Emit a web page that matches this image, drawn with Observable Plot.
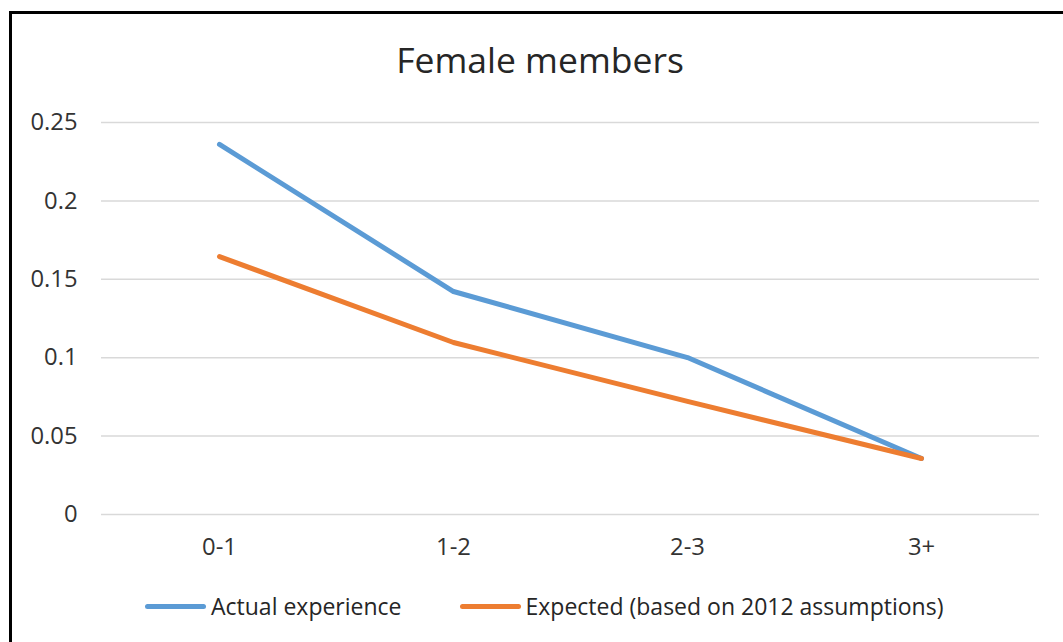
<!DOCTYPE html>
<html>
<head>
<meta charset="utf-8">
<script src="https://cdn.jsdelivr.net/npm/d3@7"></script>
<script src="https://cdn.jsdelivr.net/npm/@observablehq/plot@0.6"></script>
<style>
  html, body { margin: 0; padding: 0; background: #fff; }
  #wrap { position: relative; width: 1063px; height: 642px; overflow: hidden; font-family: "Open Sans", sans-serif; color: #404040; }
  #frame { position: absolute; left: 9px; top: 11px; right: -10px; bottom: -10px; border-left: 3px solid #000; border-top: 3px solid #000; }
  #chart { position: absolute; left: 0; top: 0; }
  #title { position: absolute; left: 540px; top: 42px; transform: translateX(-50%); font-size: 35.5px; line-height: 1; white-space: nowrap; color: #262626; }
  #legend { position: absolute; left: 145px; top: 595px; display: flex; align-items: center; gap: 58px; font-size: 23px; line-height: 1; white-space: nowrap; color: #262626; }
  .item { display: flex; align-items: center; gap: 5px; }
  .swatch { width: 61px; height: 5px; border-radius: 3px; }
</style>
</head>
<body>
<div id="wrap">
  <div id="chart"></div>
  <div id="frame"></div>
  <div id="title">Female members</div>
  <div id="legend"></div>
</div>
<script>
// Years of membership bands
const bands = ["0-1", "1-2", "2-3", "3+"];
// Observed rates
const actual = [0.236, 0.1422, 0.1001, 0.0357];
// Rates implied by the 2012 assumptions
const expected = [0.1645, 0.1097, 0.0721, 0.0357];
const seriesNames = ["Actual experience", "Expected (based on 2012 assumptions)"];
const seriesColors = ["#5B9BD5", "#ED7D31"];
const yTicks = [0, 0.05, 0.1, 0.15, 0.2, 0.25];

const rows = [
  ...bands.map((b, i) => ({band: b, value: actual[i], series: seriesNames[0]})),
  ...bands.map((b, i) => ({band: b, value: expected[i], series: seriesNames[1]}))
];

const chart = Plot.plot({
  width: 1063,
  height: 642,
  marginLeft: 101,
  marginRight: 24,
  marginTop: 122,
  marginBottom: 128,
  style: {fontFamily: "'Open Sans', sans-serif", fontSize: "23.8px", color: "#333333", background: "transparent"},
  x: {type: "point", domain: bands, padding: 0.5, label: null},
  y: {domain: [0, 0.25], label: null},
  color: {domain: seriesNames, range: seriesColors},
  marks: [
    Plot.ruleY(yTicks, {stroke: "#d9d9d9", strokeWidth: 1.5}),
    Plot.axisY(yTicks, {tickSize: 0, tickPadding: 24, tickFormat: d3.format("~g"), label: null}),
    Plot.axisX({tickSize: 0, tickPadding: 24, label: null}),
    Plot.line(rows, {x: "band", y: "value", stroke: "series", strokeWidth: 5, strokeLinecap: "round", strokeLinejoin: "round", curve: "linear"})
  ]
});
document.getElementById("chart").appendChild(chart);

const legend = document.getElementById("legend");
seriesNames.forEach((name, i) => {
  const item = document.createElement("div");
  item.className = "item";
  const sw = document.createElement("div");
  sw.className = "swatch";
  sw.style.background = seriesColors[i];
  const label = document.createElement("span");
  label.textContent = name;
  item.appendChild(sw);
  item.appendChild(label);
  legend.appendChild(item);
});
</script>
</body>
</html>
